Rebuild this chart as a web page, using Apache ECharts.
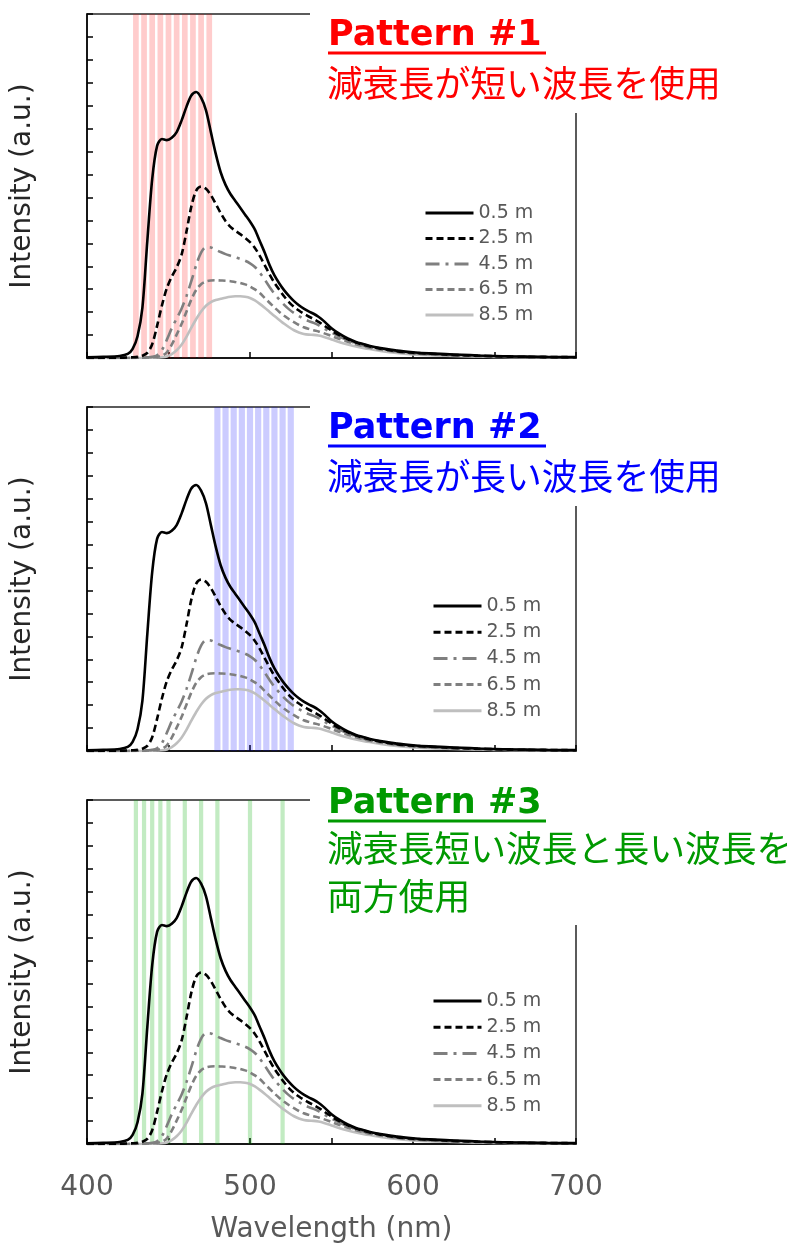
<!DOCTYPE html>
<html>
<head>
<meta charset="utf-8">
<script src="https://cdn.jsdelivr.net/npm/echarts@6/dist/echarts.min.js"></script>
<style>
html,body{margin:0;padding:0;background:#fff;}
#chart{width:787px;height:1249px;}
</style>
</head>
<body>
<div id="chart"></div>
<script>
// ---- data ----
const wavelength = [400,410,420,425,428,431,434,437,440,443,446,449,452,455,458,461,464,467,470,473,476,479,482,485,488,491,494,497,500,503,506,509,512,515,518,521,524,527,530,533,536,539,542,545,550,555,560,565,570,575,580,590,600,610,620,630,640,650,660,670,680,690,700];
const seriesNames = ['0.5 m','2.5 m','4.5 m','6.5 m','8.5 m'];
const i05 = [0.03,0.05,0.09,0.18,0.4, 0.95,2.2,5.1,7.8,9.25, 9.55,9.5,9.6,9.85,10.35, 10.95,11.45,11.6,11.35,10.8, 9.85,8.9,8.1,7.55,7.15, 6.85,6.55,6.25,5.95,5.6, 5.1,4.6,4.05,3.6,3.25, 2.95,2.7,2.48,2.3,2.15, 2.03,1.93,1.8,1.63,1.3, 1.05,0.85,0.7,0.6,0.5, 0.43,0.32,0.25,0.2,0.17, 0.14,0.11,0.09,0.07,0.06, 0.05,0.04,0.04];
const i25 = [0,0,0.01,0.02,0.03, 0.05,0.1,0.22,0.6,1.4, 2.3,3.05,3.55,3.95,4.5, 5.5,6.6,7.3,7.48,7.38, 7.1,6.72,6.32,5.97,5.72, 5.55,5.4,5.24,5.05,4.8, 4.45,4.05,3.65,3.28,2.97, 2.68,2.43,2.23,2.07,1.93, 1.81,1.7,1.58,1.44,1.2, 0.99,0.81,0.67,0.57,0.48, 0.41,0.3,0.23,0.19,0.15, 0.12,0.1,0.08,0.06,0.05, 0.04,0.04,0.03];
const i45 = [0,0,0,0,0.01, 0.01,0.02,0.03,0.05,0.12, 0.35,0.8,1.3,1.72,2.15, 2.7,3.35,4.05,4.6,4.83, 4.82,4.72,4.62,4.53,4.46, 4.39,4.32,4.24,4.13,3.97, 3.72,3.42,3.1,2.8,2.55, 2.32,2.12,1.96,1.83,1.71, 1.61,1.53,1.43,1.31,1.11, 0.93,0.77,0.64,0.54,0.46, 0.39,0.28,0.21,0.17,0.14, 0.11,0.09,0.07,0.06,0.05, 0.04,0.03,0.03];
const i65 = [0,0,0,0,0, 0.01,0.01,0.02,0.03,0.05, 0.1,0.25,0.58,1.02,1.48, 2.02,2.55,2.97,3.22,3.34, 3.38,3.39,3.38,3.37,3.35, 3.31,3.27,3.21,3.12,2.99, 2.83,2.62,2.41,2.2,2.01, 1.84,1.69,1.56,1.44,1.34, 1.27,1.21,1.16,1.09,0.96, 0.83,0.71,0.6,0.51,0.43, 0.37,0.27,0.2,0.16,0.13, 0.1,0.08,0.07,0.05,0.04, 0.04,0.03,0.03];
const i85 = [0,0,0,0,0, 0,0,0.01,0.01,0.02, 0.03,0.07,0.17,0.34,0.58, 0.92,1.32,1.7,2.03,2.28, 2.44,2.53,2.58,2.63,2.67, 2.69,2.69,2.67,2.62,2.51, 2.36,2.19,2.01,1.83,1.66, 1.49,1.34,1.21,1.11,1.05, 1.02,1.01,0.98,0.93,0.81, 0.69,0.59,0.5,0.43,0.37, 0.31,0.22,0.16,0.12,0.1, 0.08,0.06,0.05,0.04,0.03, 0.03,0.02,0.02];
const bandsShort = [430,435,440,445,450,455,460,465,470,475];
const bandsLong = [480,485,490,495,500,505,510,515,520,525];
const bandsBoth = [430,435,440,445,450,460,470,480,500,520];
const xTicks = [400,500,600,700];
const patternTitles = ['Pattern #1','Pattern #2','Pattern #3'];
const patternTexts = [['減衰長が短い波長を使用'],['減衰長が長い波長を使用'],['減衰長短い波長と長い波長を','両方使用']];

// ---- layout / styles ----
const allValues = [i05,i25,i45,i65,i85];
const lineStyles = [
  {color:'#000000', type:'solid', width:2.6},
  {color:'#000000', type:[7,4], width:2.6},
  {color:'#7f7f7f', type:[14,6,3,6], width:2.6},
  {color:'#7f7f7f', type:[7,4], width:2.6},
  {color:'#bfbfbf', type:'solid', width:2.6}
];
const panelTops = [14,407,800];
const bandSets = [bandsShort,bandsLong,bandsBoth];
const bandColors = ['rgba(255,0,0,0.2)','rgba(0,0,255,0.2)','rgba(0,170,0,0.24)'];
const bandHalf = [1.75,1.9,1.3];
const titleColors = ['#FF0000','#0000FF','#009900'];
const legendPos = [{left:424,top:203,gap:5.5},{left:432,top:596,gap:6.2},{left:432,top:991,gap:6.2}];

const grids=[], xAxes=[], yAxes=[], series=[], legends=[], graphics=[];
for (let p=0;p<3;p++){
  grids.push({left:87, width:489, top:panelTops[p], height:344, containLabel:false, outerBoundsMode:'none',
    show:true, borderColor:'#262626', borderWidth:1.5, backgroundColor:'transparent'});
  const isBottom = p===2;
  xAxes.push({
    type:'value', gridIndex:p, min:400, max:700, interval:50,
    axisLine:{show:true, onZero:false, lineStyle:{color:'#000', width:1.5}},
    axisTick:{show:true, inside:true, length:6, lineStyle:{color:'#000', width:1.5}},
    splitLine:{show:false},
    axisLabel:{show:isBottom, margin:30, color:'#595959', fontSize:28, fontFamily:'DejaVu Sans',
      formatter:(v)=> xTicks.includes(v) ? String(v) : ''},
    name: isBottom ? 'Wavelength (nm)' : '',
    nameLocation:'middle', nameGap:72,
    nameTextStyle:{color:'#595959', fontSize:28, fontFamily:'DejaVu Sans'}
  });
  yAxes.push({
    type:'value', gridIndex:p, min:0, max:15, interval:1,
    axisLine:{show:true, lineStyle:{color:'#000', width:1.5}},
    axisTick:{show:true, inside:true, length:6, lineStyle:{color:'#000', width:1.5}},
    splitLine:{show:false},
    axisLabel:{show:false},
    name:'Intensity (a.u.)', nameLocation:'middle', nameGap:50, nameRotate:90,
    nameTextStyle:{color:'#262626', fontSize:28, fontFamily:'DejaVu Sans'}
  });
  for (let s=0;s<5;s++){
    series.push({
      type:'line', name:seriesNames[s], xAxisIndex:p, yAxisIndex:p,
      data: wavelength.map((w,i)=>[w, allValues[s][i]]),
      showSymbol:false, symbol:'none', smooth:0.3,
      lineStyle: lineStyles[s], itemStyle:{color:lineStyles[s].color},
      z: 3 + (4-s)*0.1, silent:true
    });
  }
  series.push({
    type:'line', name:'bands'+p, xAxisIndex:p, yAxisIndex:p, data:[], z:6, silent:true,
    markArea:{silent:true, itemStyle:{color:bandColors[p]},
      data: bandSets[p].map(b=>[{xAxis:b-bandHalf[p]},{xAxis:b+bandHalf[p]}])}
  });
  legends.push({
    orient:'vertical', left:legendPos[p].left, top:legendPos[p].top, padding:0,
    itemWidth:48, itemHeight:20, itemGap:legendPos[p].gap, selectedMode:false,
    itemStyle:{opacity:0},
    lineStyle:{width:3},
    textStyle:{fontSize:19, color:'#595959', fontFamily:'DejaVu Sans', lineHeight:20},
    data: seriesNames
  });
}

// titles (white boxes over the top-right of each frame)
const boxes = [{y:0,h:113},{y:395,h:111},{y:783,h:142}];
const patternY = [36, 429, 804];
const underlineY = [51.5, 444.5, 819.5];
const jpY = [[83],[476],[848.5,896]];
for (let p=0;p<3;p++){
  graphics.push({type:'rect', shape:{x:310,y:boxes[p].y,width:477,height:boxes[p].h}, style:{fill:'#ffffff'}, z:100});
  graphics.push({type:'text', x:328, y:patternY[p], z:101,
    style:{text:patternTitles[p], fill:titleColors[p], font:'bold 35px "DejaVu Sans"', verticalAlign:'middle', align:'left'}});
  graphics.push({type:'rect', shape:{x:328,y:underlineY[p],width:218,height:3}, style:{fill:titleColors[p]}, z:101});
  patternTexts[p].forEach((t,k)=>{
    graphics.push({type:'text', x:327, y:jpY[p][k], z:101,
      style:{text:t, fill:titleColors[p], font:'35.8px "Noto Sans CJK JP"', verticalAlign:'middle', align:'left'}});
  });
}

const chart = echarts.init(document.getElementById('chart'), null, {renderer:'canvas'});
chart.setOption({
  animation:false,
  backgroundColor:'#ffffff',
  grid:grids, xAxis:xAxes, yAxis:yAxes, series:series, legend:legends, graphic:graphics
});
</script>
</body>
</html>
